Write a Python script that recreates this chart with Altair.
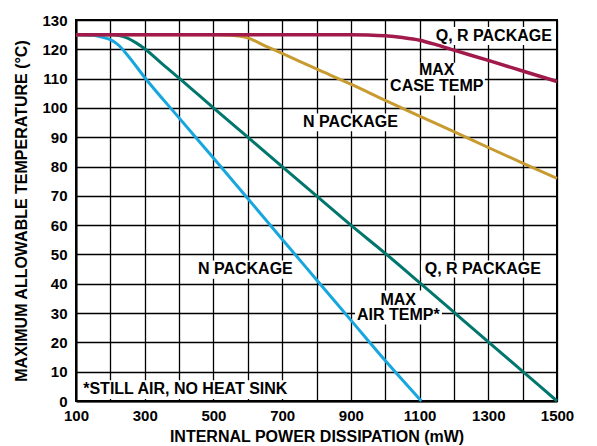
import altair as alt
import pandas as pd

# ---- data ----
red_power = [100, 900, 950, 1000, 1050, 1100, 1150, 1200, 1300, 1400, 1500]
red_temp = [125, 125, 124.9, 124.6, 124.0, 123.1, 121.5, 119.7, 116.2, 112.6, 109.0]

gold_power = [100, 500, 550, 600, 650, 700, 800, 900, 1000, 1100, 1200, 1300, 1400, 1500]
gold_temp = [125, 125, 124.8, 123.9, 121.2, 118.6, 113.3, 108.1, 102.6, 97.2, 91.9, 86.5, 81.2, 76.0]

teal_power = [100, 200, 225, 250, 275, 300, 350, 400, 500, 600, 700, 800, 900, 1000, 1100, 1200, 1300, 1400, 1500]
teal_temp = [125, 125, 124.7, 123.8, 122.2, 120.2, 115.1, 110.2, 100, 90, 80, 70, 60, 50.4, 40.4, 30.3, 20.2, 10.1, 0]

blue_power = [100, 150, 175, 200, 225, 250, 300, 400, 500, 600, 700, 800, 900, 1000, 1105]
blue_temp = [125, 124.8, 124.2, 123.3, 121.3, 118.0, 110.4, 96.6, 82.9, 69.1, 55.2, 41.4, 27.6, 13.8, 0]

x_ticks = list(range(100, 1501, 100))
y_ticks = list(range(0, 131, 10))

# annotation texts and their anchor positions (data units)
ann_text = ["Q, R PACKAGE", "MAX", "CASE TEMP", "N PACKAGE", "N PACKAGE",
            "Q, R PACKAGE", "MAX", "AIR TEMP*"]
ann_x = [1316, 1150, 1150, 899, 593, 1284, 1038, 1038]
ann_y = [124.6, 112.9, 107.4, 95.1, 45.0, 45.0, 34.6, 29.2]

note_text = ["*STILL AIR, NO HEAT SINK"]
note_x = [121]
note_y = [4.1]

# white boxes behind the labels (data units)
box_x1 = [1136, 1008, 755, 449, 1104, 912, 109]
box_x2 = [1495, 1290, 1043, 737, 1462, 1165, 714]
box_y1 = [127.6, 115.4, 98.1, 47.9, 47.9, 37.7, 7.1]
box_y2 = [121.5, 104.2, 92.0, 41.7, 42.1, 26.1, 0.7]

FONT = "Liberation Sans"

x_enc = alt.X(
    "power:Q",
    scale=alt.Scale(domain=[100, 1500], nice=False, zero=False),
    axis=alt.Axis(
        title="INTERNAL POWER DISSIPATION (mW)",
        values=x_ticks,
        format="d",
        labelExpr="datum.value % 200 == 100 ? datum.label : ''",
        labelFlush=False,
        labelOverlap=False,
        labelPadding=7,
        titlePadding=5,
    ),
)
y_enc = alt.Y(
    "temp:Q",
    scale=alt.Scale(domain=[0, 130], nice=False, zero=False),
    axis=alt.Axis(
        title="MAXIMUM ALLOWABLE TEMPERATURE (°C)",
        values=y_ticks,
        format="d",
        labelFlush=False,
        labelOverlap=False,
        labelPadding=9,
        titlePadding=12,
    ),
)


def line_layer(p, t, color, width):
    df = pd.DataFrame({"power": p, "temp": t})
    return alt.Chart(df).mark_line(
        color=color, strokeWidth=width, interpolate="monotone"
    ).encode(x=x_enc, y=y_enc)


boxes = alt.Chart(pd.DataFrame({
    "power": box_x1, "power2": box_x2, "temp": box_y1, "temp2": box_y2
})).mark_rect(color="white").encode(
    x=x_enc, x2="power2:Q", y=y_enc, y2="temp2:Q"
)

labels = alt.Chart(pd.DataFrame({
    "power": ann_x, "temp": ann_y, "label": ann_text
})).mark_text(
    font=FONT, fontWeight="bold", fontSize=16, color="black",
    align="center", baseline="middle"
).encode(x=x_enc, y=y_enc, text="label:N")

note = alt.Chart(pd.DataFrame({
    "power": note_x, "temp": note_y, "label": note_text
})).mark_text(
    font=FONT, fontWeight="bold", fontSize=16, color="black",
    align="left", baseline="middle"
).encode(x=x_enc, y=y_enc, text="label:N")

chart = alt.layer(
    boxes,
    line_layer(blue_power, blue_temp, "#17A6DD", 3),
    line_layer(teal_power, teal_temp, "#00766D", 3),
    line_layer(gold_power, gold_temp, "#C89B31", 3),
    line_layer(red_power, red_temp, "#A11A4B", 3.5),
    labels,
    note,
).properties(width=481, height=381).configure_view(
    stroke="black", strokeWidth=2
).configure_axis(
    grid=True, gridColor="black", gridWidth=1.3, gridOpacity=1,
    domainColor="black", domainWidth=2,
    ticks=False, tickSize=0,
    labelFont=FONT, labelFontWeight="bold", labelFontSize=15, labelColor="black",
    titleFont=FONT, titleFontWeight="bold", titleFontSize=16, titleColor="black",
)

chart.save("out.html", embed_options={"renderer": "svg", "actions": False})
